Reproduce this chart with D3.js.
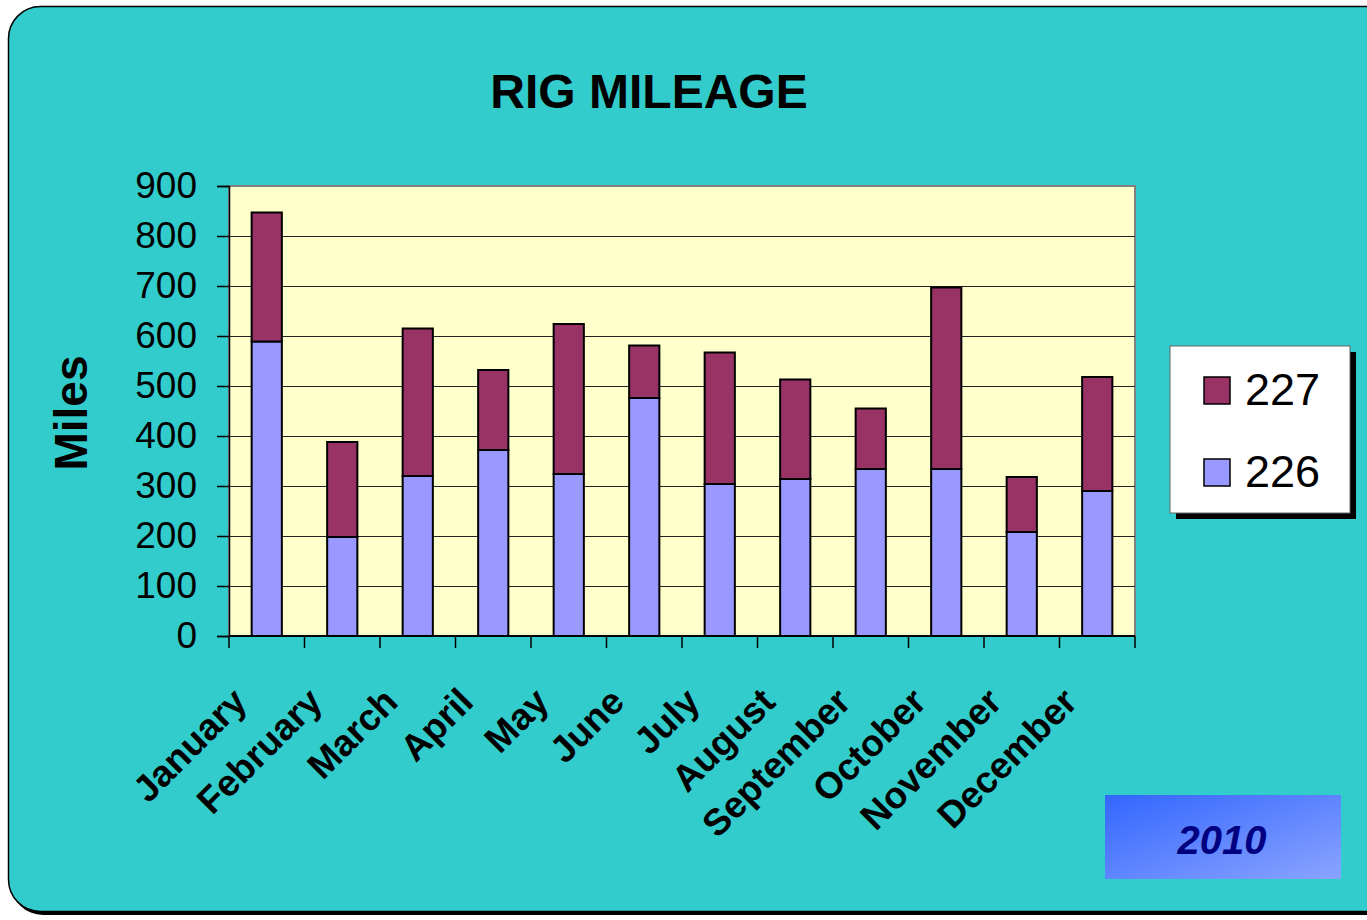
<!DOCTYPE html>
<html>
<head>
<meta charset="utf-8">
<script src="https://cdn.jsdelivr.net/npm/d3@7"></script>
<style>
  html, body { margin: 0; padding: 0; background: #fff; }
  svg { display: block; font-family: "Liberation Sans", Arial, sans-serif; }
</style>
</head>
<body>
<div id="container"></div>
<script>
const months = ["January", "February", "March", "April", "May", "June",
  "July", "August", "September", "October", "November", "December"];
const rig226 = [589, 198, 320, 372, 324, 476, 304, 314, 334, 334, 208, 290];
const rig227 = [258, 190, 295, 160, 300, 105, 263, 199, 121, 363, 110, 228];
const seriesNames = ["226", "227"];
const yTicks = [0, 100, 200, 300, 400, 500, 600, 700, 800, 900];

const w = 1367;
const h = 920;
const plot = { left: 229, right: 1135, top: 186, bottom: 636 };
const colors = { "226": "#9999ff", "227": "#993366" };

const svg = d3.select("#container")
  .append("svg")
  .attr("width", w)
  .attr("height", h);

const defs = svg.append("defs");
const grad = defs.append("linearGradient")
  .attr("id", "yearGrad")
  .attr("x1", "0%").attr("y1", "0%")
  .attr("x2", "100%").attr("y2", "100%");
grad.append("stop").attr("offset", "0%").attr("stop-color", "#3366ff");
grad.append("stop").attr("offset", "100%").attr("stop-color", "#8aa4ff");

// outer chart frame with shadow
svg.append("rect")
  .attr("x", 11).attr("y", 9)
  .attr("width", 1400).attr("height", 906)
  .attr("rx", 32).attr("ry", 32)
  .attr("fill", "#000");
svg.append("rect")
  .attr("x", 8.5).attr("y", 6.5)
  .attr("width", 1400).attr("height", 905)
  .attr("rx", 32).attr("ry", 32)
  .attr("fill", "#33cccc")
  .attr("stroke", "#000")
  .attr("stroke-width", 1.5);

// title
svg.append("text")
  .text("RIG MILEAGE")
  .attr("x", 649).attr("y", 108)
  .attr("text-anchor", "middle")
  .attr("font-size", 48)
  .attr("font-weight", "bold");

const x = d3.scaleBand()
  .domain(months)
  .range([plot.left, plot.right])
  .paddingInner(0.6)
  .paddingOuter(0.3);

const y = d3.scaleLinear()
  .domain([0, 900])
  .range([plot.bottom, plot.top]);

// plot area
svg.append("rect")
  .attr("x", plot.left).attr("y", plot.top)
  .attr("width", plot.right - plot.left)
  .attr("height", plot.bottom - plot.top)
  .attr("fill", "#ffffcc")
  .attr("stroke", "#808080")
  .attr("stroke-width", 2);

// gridlines
svg.append("g")
  .selectAll("line")
  .data(yTicks.filter(d => d > 0 && d < 900))
  .enter()
  .append("line")
  .attr("x1", plot.left).attr("x2", plot.right)
  .attr("y1", d => y(d) + 0.5).attr("y2", d => y(d) + 0.5)
  .attr("stroke", "#222")
  .attr("stroke-width", 1.2);

// stacked bars
const table = months.map((m, i) => ({ month: m, "226": rig226[i], "227": rig227[i] }));
const stacked = d3.stack().keys(seriesNames)(table);

svg.append("g")
  .selectAll("g")
  .data(stacked)
  .enter()
  .append("g")
  .attr("fill", d => colors[d.key])
  .selectAll("rect")
  .data(d => d)
  .enter()
  .append("rect")
  .attr("x", d => x(d.data.month))
  .attr("y", d => y(d[1]))
  .attr("width", x.bandwidth())
  .attr("height", d => y(d[0]) - y(d[1]))
  .attr("stroke", "#000")
  .attr("stroke-width", 2);

// y axis
const yAxis = d3.axisLeft(y)
  .tickValues(yTicks)
  .tickSize(12)
  .tickPadding(20);
const yg = svg.append("g")
  .attr("transform", `translate(${plot.left}, 0)`)
  .call(yAxis);
yg.select(".domain").attr("stroke", "#000").attr("stroke-width", 1.5);
yg.selectAll(".tick line").attr("stroke", "#000").attr("stroke-width", 1.5);
yg.selectAll(".tick text")
  .attr("font-size", 37)
  .attr("font-family", "Liberation Sans, Arial, sans-serif")
  .attr("fill", "#000");

// x axis: ticks at category boundaries
const step = (plot.right - plot.left) / months.length;
svg.append("line")
  .attr("x1", plot.left).attr("x2", plot.right)
  .attr("y1", plot.bottom).attr("y2", plot.bottom)
  .attr("stroke", "#000").attr("stroke-width", 2);
svg.append("g")
  .selectAll("line")
  .data(d3.range(months.length + 1))
  .enter()
  .append("line")
  .attr("x1", i => plot.left + i * step)
  .attr("x2", i => plot.left + i * step)
  .attr("y1", plot.bottom)
  .attr("y2", plot.bottom + 12)
  .attr("stroke", "#000")
  .attr("stroke-width", 1.5);

// x labels rotated
svg.append("g")
  .selectAll("text")
  .data(months)
  .enter()
  .append("text")
  .text(d => d)
  .attr("text-anchor", "end")
  .attr("font-size", 37)
  .attr("font-weight", "bold")
  .attr("transform", d => `translate(${x(d) + x.bandwidth() / 2 - 18}, 704) rotate(-45)`);

// y axis title
svg.append("text")
  .text("Miles")
  .attr("text-anchor", "middle")
  .attr("font-size", 46)
  .attr("font-weight", "bold")
  .attr("transform", "translate(87, 413) rotate(-90)");

// legend
const lg = svg.append("g").attr("transform", "translate(1170, 346)");
lg.append("rect")
  .attr("x", 6).attr("y", 6)
  .attr("width", 180).attr("height", 167)
  .attr("fill", "#000");
lg.append("rect")
  .attr("x", 0).attr("y", 0)
  .attr("width", 180).attr("height", 167)
  .attr("fill", "#fff")
  .attr("stroke", "#666")
  .attr("stroke-width", 1);
const legendItems = seriesNames.slice().reverse();
const items = lg.selectAll("g.item")
  .data(legendItems)
  .enter()
  .append("g")
  .attr("class", "item")
  .attr("transform", (d, i) => `translate(0, ${i * 82})`);
items.append("rect")
  .attr("x", 34).attr("y", 31)
  .attr("width", 26).attr("height", 27)
  .attr("fill", d => colors[d])
  .attr("stroke", "#000")
  .attr("stroke-width", 1.5);
items.append("text")
  .text(d => d)
  .attr("x", 75).attr("y", 59)
  .attr("font-size", 45);

// year box
svg.append("rect")
  .attr("x", 1105).attr("y", 795)
  .attr("width", 236).attr("height", 84)
  .attr("fill", "url(#yearGrad)");
svg.append("text")
  .text("2010")
  .attr("x", 1222).attr("y", 854)
  .attr("text-anchor", "middle")
  .attr("font-size", 40)
  .attr("font-weight", "bold")
  .attr("font-style", "italic")
  .attr("fill", "#000080");
</script>
</body>
</html>
